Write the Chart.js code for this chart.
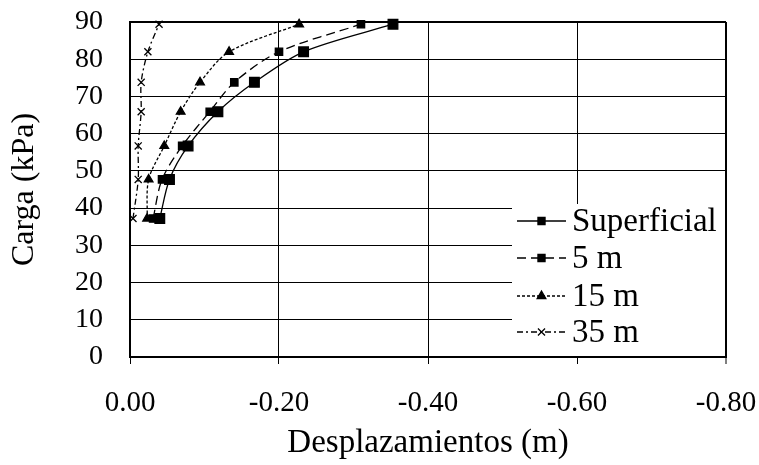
<!DOCTYPE html>
<html>
<head>
<meta charset="utf-8">
<script src="https://cdn.jsdelivr.net/npm/chart.js@4/dist/chart.umd.min.js"></script>
<style>
    html, body { margin: 0; padding: 0; background: #fff; }
    canvas { display: block; }
</style>
</head>
<body>
<canvas id="chart" width="759" height="465"></canvas>
<script>
// data
const seriesNames = ['Superficial', '5 m', '15 m', '35 m'];
const loads = [37.2, 47.7, 56.7, 65.9, 73.8, 82.0, 89.4];
const supDisp = [-0.040, -0.053, -0.078, -0.118, -0.167, -0.233, -0.353];
const m5Disp = [-0.031, -0.043, -0.070, -0.107, -0.140, -0.200, -0.310];
const m15Disp = [-0.023, -0.025, -0.046, -0.068, -0.094, -0.133, -0.227];
const m35Disp = [-0.004, -0.011, -0.011, -0.015, -0.015, -0.024, -0.039];
const xTicks = [0, -0.2, -0.4, -0.6, -0.8];
const yTicks = [0, 10, 20, 30, 40, 50, 60, 70, 80, 90];

const serif = "'Liberation Serif', 'Times New Roman', serif";


function toPoints(disp){
    return disp.map((d, i) => ({x: d, y: loads[i]}));
}


function makeSet(label, disp, dash, style, radius, legendRadius){
    return {
        label: label,
        data: toPoints(disp),
        borderColor: '#000',
        backgroundColor: '#000',
        borderWidth: 1.3,
        borderDash: dash,
        pointStyle: style,
        pointRadius: radius,
        pointBorderWidth: 1.3,
        pointBorderColor: '#000',
        pointBackgroundColor: '#000',
        legendRadius: legendRadius,
        showLine: true,
        tension: 0.3,
        clip: false
    };
}


const datasets = [
    makeSet(seriesNames[0], supDisp, [], 'rect', 6.8, 5),
    makeSet(seriesNames[1], m5Disp, [9, 5], 'rect', 5.2, 5),
    makeSet(seriesNames[2], m15Disp, [3, 2], 'triangle', 5, 5),
    makeSet(seriesNames[3], m35Disp, [6, 3, 2, 3], 'crossRot', 5, 5)
];


// no extra room for tick labels, the layout padding does it
function noPad(scale){
    scale.paddingTop = 0;
    scale.paddingBottom = 0;
    scale.paddingLeft = 0;
    scale.paddingRight = 0;
}


// legend drawn inside the plot, bottom right, white box
const boxLegend = {
    id: 'boxLegend',
    afterDatasetsDraw(chart){
        const ctx = chart.ctx;
        const area = chart.chartArea;
        const boxLeft = 512;
        const boxTop = 204;
        ctx.save();
        ctx.fillStyle = '#fff';
        ctx.fillRect(boxLeft, boxTop, area.right - 1 - boxLeft, area.bottom - 1 - boxTop);

        const rowY = [221, 258, 296, 332];
        chart.data.datasets.forEach((ds, i) => {
            const y = rowY[i];
            ctx.strokeStyle = '#000';
            ctx.fillStyle = '#000';
            ctx.lineWidth = 1.3;
            ctx.setLineDash(ds.borderDash);
            ctx.beginPath();
            ctx.moveTo(517, y);
            ctx.lineTo(566, y);
            ctx.stroke();
            ctx.setLineDash([]);
            Chart.helpers.drawPoint(ctx, {
                pointStyle: ds.pointStyle,
                radius: ds.legendRadius,
                rotation: 0,
                borderWidth: 1.3
            }, 541.5, y);
            ctx.font = '33px ' + serif;
            ctx.textAlign = 'left';
            ctx.textBaseline = 'middle';
            ctx.fillText(ds.label, 572, y + 1);
        });
        ctx.restore();
    }
};


const chart = new Chart(document.getElementById('chart'), {
    type: 'scatter',
    data: { datasets: datasets },
    plugins: [boxLegend],
    options: {
        responsive: false,
        devicePixelRatio: 1,
        animation: false,
        layout: { padding: { top: 22, right: 33, left: 0, bottom: 0 } },
        plugins: {
            legend: { display: false },
            tooltip: { enabled: false }
        },
        scales: {
            x: {
                type: 'linear',
                reverse: true,
                min: -0.8,
                max: 0,
                afterBuildTicks: (scale) => {
                    scale.ticks = xTicks.map(v => ({value: v}));
                },
                afterFit: (scale) => { scale.height = 108; noPad(scale); },
                grid: {
                    color: '#000',
                    lineWidth: (c) => (c.tick && c.tick.value === -0.8) ? 2 : 1,
                    drawTicks: true,
                    tickLength: 7,
                    tickColor: '#000',
                    tickWidth: 1
                },
                border: { color: '#000', width: 2 },
                ticks: {
                    color: '#000',
                    padding: 22,
                    autoSkip: false,
                    font: { family: serif, size: 29 },
                    maxRotation: 0,
                    callback: (v) => Number(v).toFixed(2).replace('-0.00', '0.00')
                },
                title: {
                    display: true,
                    text: 'Desplazamientos (m)',
                    color: '#000',
                    font: { family: serif, size: 33 },
                    padding: { top: 0, bottom: 2 }
                }
            },
            y: {
                type: 'linear',
                min: 0,
                max: 90,
                afterBuildTicks: (scale) => {
                    scale.ticks = yTicks.map(v => ({value: v}));
                },
                afterFit: (scale) => { scale.width = 130; noPad(scale); },
                grid: {
                    color: '#000',
                    lineWidth: (c) => (c.tick && c.tick.value === 90) ? 2 : 1,
                    drawTicks: false
                },
                border: { color: '#000', width: 2 },
                ticks: {
                    color: '#000',
                    padding: 27,
                    autoSkip: false,
                    font: { family: serif, size: 28 }
                },
                title: {
                    display: true,
                    text: 'Carga (kPa)',
                    color: '#000',
                    font: { family: serif, size: 32 },
                    padding: { top: 5, bottom: 0 }
                }
            }
        }
    }
});
</script>
</body>
</html>
